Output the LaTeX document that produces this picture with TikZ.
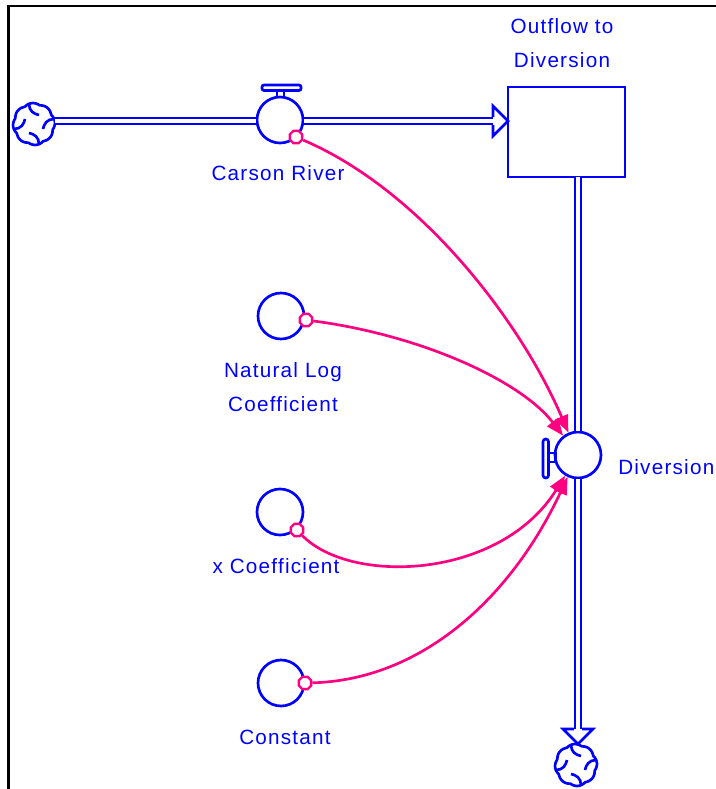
\documentclass[tikz,border=0pt]{standalone}
\usepackage{fontspec}
\setmainfont{Liberation Sans}
\usetikzlibrary{arrows.meta,shapes.geometric}
\definecolor{sdblue}{RGB}{0,0,255}
\definecolor{sdpink}{RGB}{255,0,128}
\tikzset{
 cloudpic/.pic={
  \draw[sdblue,line width=2pt] plot[domain=0:360,samples=121,variable=\t] ({(19.5+1.5*abs(cos(4*\t+22.5)))*cos(\t)},{(19.5+1.5*abs(cos(4*\t+22.5)))*sin(\t)}) -- cycle;
  \foreach \r in {0,90,180,270}
    \draw[sdblue,line width=2pt,rotate=\r] (-5,-20) .. controls (-5,-13) and (0,-10) .. (5,-9);
 }
}
\begin{document}
\begin{tikzpicture}[x=0.75pt,y=-0.75pt,
 lbl/.style={text=sdblue,font=\fontsize{15.5}{25.5}\selectfont\addfontfeature{LetterSpace=6},align=center,inner sep=0},
 conv/.style={circle,draw=sdblue,line width=2pt,minimum size=34.5pt,inner sep=0,fill=white},
 hexs/.style={regular polygon,regular polygon sides=8,draw=sdpink,line width=1.8pt,minimum size=10pt,inner sep=0,fill=white},
 link/.style={draw=sdpink,line width=2pt,-{Triangle[length=13pt,width=10pt]}},
 pipe/.style={draw=sdblue,line width=1.8pt,double=white,double distance=2.4pt},
 blueline/.style={draw=sdblue,line width=2pt},
 cloudnode/.style={circle,minimum size=30pt,inner sep=0,draw=none}
 ]
\useasboundingbox (0,0) rectangle (716,789);
% frame
\draw[black,line width=2pt] (8.3,790) -- (8.3,6) -- (717,6);

% clouds
\node[cloudnode] (c1) at (34,124) {};
\pic at (c1) {cloudpic};
\node[cloudnode] (c2) at (576,765) {};
\pic at (c2) {cloudpic};

% valves and converters
\node[conv] (cr) at (280,120) {};
\node[conv] (nl) at (281,316) {};
\node[conv] (xc) at (280,512) {};
\node[conv] (cst) at (281,683) {};
\node[conv] (div) at (578,455) {};

% stock
\node[draw=sdblue,line width=2pt,minimum width=87.75pt,minimum height=67.5pt,inner sep=0] (stock) at (566.5,132) {};

% pipes
\coordinate (pa) at (55,121);
\coordinate (pb) at (493,121);
\coordinate (sb) at (578,177);
\coordinate (pc) at (578,729);
\draw[pipe] (pa) -- (cr.west |- pa);
\draw[pipe] (cr.east |- pa) -- (pb);
\draw[blueline] (493,117) -- (493,106) -- (508,121) -- (493,136) -- (493,125);
\draw[pipe] (sb) -- (div.north);
\draw[pipe] (div.south) -- (pc);
\draw[blueline] (574,729) -- (563,729) -- (578,744) -- (593,729) -- (582,729);

% valve handles
\draw[blueline,rounded corners=1.5pt] (262,85) rectangle (301,90.5);
\draw[blueline] (277,90.5) rectangle (284,97);
\draw[blueline,rounded corners=2pt] (543,439) rectangle (548.5,478);
\draw[blueline] (548.5,453) rectangle (555.5,462);

% connector start markers
\node[hexs] (h1) at (296,137) {};
\node[hexs] (h2) at (306,320) {};
\node[hexs] (h3) at (297,530) {};
\node[hexs] (h4) at (305,683) {};

% connectors
\draw[link] (h1) .. controls (420,190) and (520,320) .. (div);
\draw[link] (h2) .. controls (420,335) and (520,380) .. (div);
\draw[link] (h3) .. controls (350,585) and (500,580) .. (div);
\draw[link] (h4) .. controls (420,680) and (510,600) .. (div);

% labels
\node[lbl] (t1) at (562,43) {Outflow to\\Diversion};
\node[lbl] (t2) at (278,173) {Carson River};
\node[lbl] (t3) at (283,387) {Natural Log\\Coefficient};
\node[lbl] (t4) at (276,566) {x Coefficient};
\node[lbl] (t5) at (285,737) {Constant};
\node[lbl,anchor=west] (t6) at (618,467) {Diversion};
\end{tikzpicture}
\end{document}
